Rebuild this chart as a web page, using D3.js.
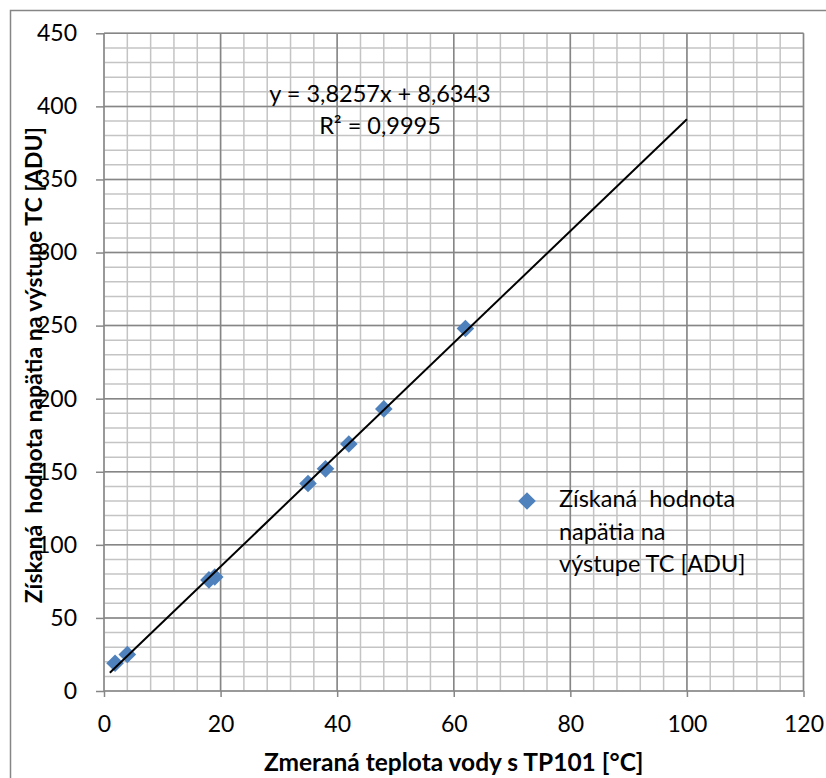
<!DOCTYPE html>
<html>
<head>
<meta charset="utf-8">
<script src="https://cdn.jsdelivr.net/npm/d3@7"></script>
<style>
  body { margin: 0; background: #fff; }
  svg text { font-family: Lato, "Open Sans", sans-serif; fill: #000; }
  .tick text { font-size: 23px; }
  .axis path { display: none; }
  .axis line { stroke: #868686; }
</style>
</head>
<body>
<div id="container"></div>
<script>
// measured points
var tempC = [1.9, 4, 18, 19, 35, 38, 42, 48, 62];
var adu = [19, 25, 76, 78, 142, 152, 169, 193, 248];

// trend line shown in the chart
var slope = 3.8257;
var intercept = 8.6343;
var trendRange = [1, 100];
var eqLines = ["y = 3,8257x + 8,6343", "R² = 0,9995"];

var xTicks = [0, 20, 40, 60, 80, 100, 120];
var yTicks = [0, 50, 100, 150, 200, 250, 300, 350, 400, 450];
var legendLines = ["Získaná  hodnota", "napätia na", "výstupe TC [ADU]"];

const width = 826;
const height = 778;
const plotLeft = 104, plotRight = 803.5, plotTop = 33.3, plotBottom = 691;

const svg = d3.select("#container")
  .append("svg")
  .attr("width", width)
  .attr("height", height);

// chart frame (only top/left visible)
svg.append("rect")
  .attr("x", 10.5).attr("y", 10.5)
  .attr("width", 830).attr("height", 790)
  .attr("fill", "#fff")
  .attr("stroke", "#868686")
  .attr("stroke-width", 1.5);

const x = d3.scaleLinear().domain([0, 120]).range([plotLeft, plotRight]);
const y = d3.scaleLinear().domain([0, 450]).range([plotBottom, plotTop]);

// minor grid
const grid = svg.append("g");
grid.selectAll(".vminor")
  .data(d3.range(0, 121, 4))
  .enter().append("line")
  .attr("x1", d => x(d)).attr("x2", d => x(d))
  .attr("y1", plotTop).attr("y2", plotBottom)
  .attr("stroke", "#c4c4c4").attr("stroke-width", 1.5);
grid.selectAll(".hminor")
  .data(d3.range(0, 451, 10))
  .enter().append("line")
  .attr("x1", plotLeft).attr("x2", plotRight)
  .attr("y1", d => y(d)).attr("y2", d => y(d))
  .attr("stroke", "#c4c4c4").attr("stroke-width", 1.5);

// major grid
grid.selectAll(".vmajor")
  .data(xTicks)
  .enter().append("line")
  .attr("x1", d => x(d)).attr("x2", d => x(d))
  .attr("y1", plotTop).attr("y2", plotBottom)
  .attr("stroke", "#868686").attr("stroke-width", 1.5);
grid.selectAll(".hmajor")
  .data(yTicks)
  .enter().append("line")
  .attr("x1", plotLeft).attr("x2", plotRight)
  .attr("y1", d => y(d)).attr("y2", d => y(d))
  .attr("stroke", "#868686").attr("stroke-width", 1.5);

// axes
const xAxis = d3.axisBottom(x).tickValues(xTicks).tickSize(6).tickPadding(19);
svg.append("g")
  .attr("class", "axis")
  .attr("transform", "translate(0," + plotBottom + ")")
  .call(xAxis)
  .selectAll("line").attr("stroke-width", 1.5);

const yAxis = d3.axisLeft(y).tickValues(yTicks).tickSize(8).tickPadding(19);
svg.append("g")
  .attr("class", "axis")
  .attr("transform", "translate(" + plotLeft + ",0)")
  .call(yAxis)
  .selectAll("line").attr("stroke-width", 1.5);

// points
var points = tempC.map((t, i) => ({ t: t, v: adu[i] }));
const diamond = "M0,-8.8L8.8,0L0,8.8L-8.8,0Z";
svg.selectAll(".dot")
  .data(points)
  .enter().append("path")
  .attr("class", "dot")
  .attr("d", diamond)
  .attr("transform", d => "translate(" + x(d.t) + "," + y(d.v) + ")")
  .attr("fill", "#4f81bd");

// trend line
const line = d3.line()
  .x(d => x(d))
  .y(d => y(slope * d + intercept));
svg.append("path")
  .datum(trendRange)
  .attr("d", line)
  .attr("fill", "none")
  .attr("stroke", "#000")
  .attr("stroke-width", 2);

// equation
svg.selectAll(".eq")
  .data(eqLines)
  .enter().append("text")
  .attr("x", 380)
  .attr("y", (d, i) => 102 + i * 32)
  .attr("text-anchor", "middle")
  .style("font-size", "23.5px")
  .text(d => d);

// legend
const legend = svg.append("g").attr("id", "legend");
legend.append("path")
  .attr("d", diamond)
  .attr("transform", "translate(527,501)")
  .attr("fill", "#4f81bd");
legend.selectAll("text")
  .data(legendLines)
  .enter().append("text")
  .attr("x", 559)
  .attr("y", (d, i) => 507 + i * 32.5)
  .style("font-size", "23.5px")
  .style("white-space", "pre")
  .attr("xml:space", "preserve")
  .text(d => d);

// axis titles
svg.append("text")
  .attr("x", (plotLeft + plotRight) / 2)
  .attr("y", 771)
  .attr("text-anchor", "middle")
  .style("font-size", "24.5px")
  .style("font-weight", "bold")
  .text("Zmeraná teplota vody s TP101 [°C]");

svg.append("text")
  .attr("transform", "translate(41.5," + ((plotTop + plotBottom) / 2 + 3) + ") rotate(-90)")
  .attr("text-anchor", "middle")
  .style("font-size", "23px")
  .style("font-weight", "bold")
  .style("white-space", "pre")
  .attr("xml:space", "preserve")
  .text("Získaná  hodnota napätia na výstupe TC [ADU]");
</script>
</body>
</html>
